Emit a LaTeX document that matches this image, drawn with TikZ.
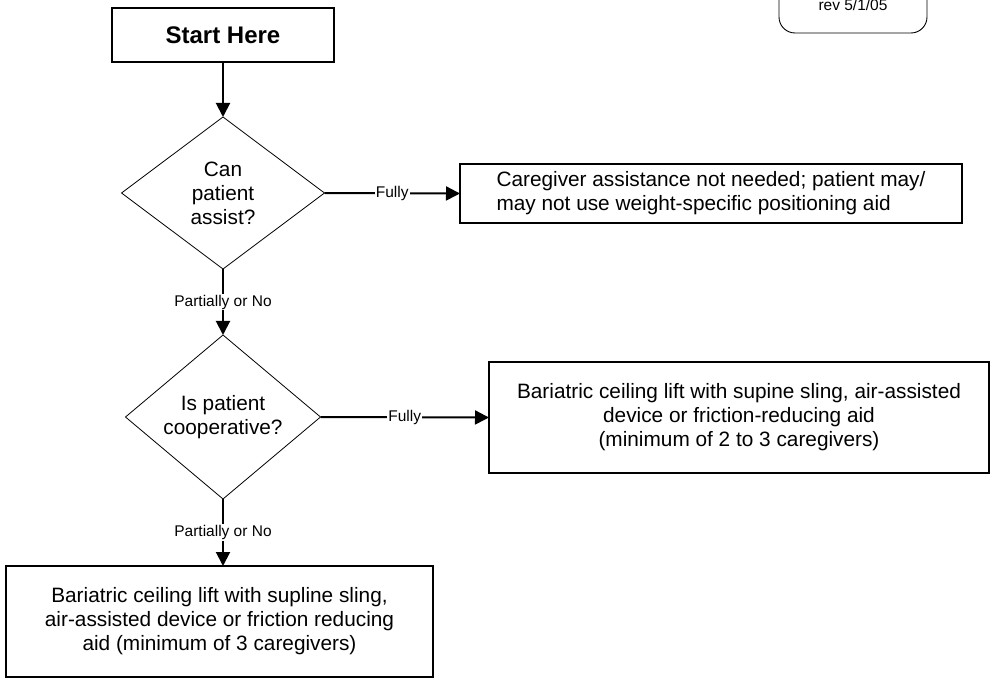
\documentclass[tikz,border=0pt]{standalone}
\usepackage{fontspec}
\setmainfont{Liberation Sans}
\usetikzlibrary{positioning, arrows.meta, shapes.geometric}

\begin{document}
\begin{tikzpicture}[x=1pt, y=-1pt,
        font=\fontsize{20.8}{24}\selectfont,
        b/.style={rectangle, draw, line width=1.1pt, align=center, inner sep=0pt, outer sep=0pt},
        dec/.style={diamond, draw, line width=0.8pt, align=center, inner sep=0pt, outer sep=0pt},
        arr/.style={-{Triangle[length=14pt, width=14pt]}, line width=2pt},
        lbl/.style={fill=white, inner sep=1pt, font=\fontsize{15.5}{18}\selectfont}
    ]
    \useasboundingbox (0,0) rectangle (991,679);
    % revision tag, cut by the top edge
    \node[b, rounded corners=16pt, line width=0.9pt, minimum width=148pt, minimum height=56pt,
        font=\fontsize{15.5}{18}\selectfont] (rev) at (853,5) {rev 5/1/05};
    \node[b, minimum width=222pt, minimum height=54pt, font=\fontsize{24}{28}\selectfont\bfseries] (start) at (223,35) {Start Here};
    \node[dec, minimum width=203pt, minimum height=152pt] (assist) at (223,193) {Can\\patient\\assist?};
    \node[b, align=left, minimum width=502pt, minimum height=59pt] (noneed) at (711,193.5)
        {Caregiver assistance not needed; patient may/\\may not use weight-specific positioning aid};
    \node[dec, minimum width=195pt, minimum height=164pt] (coop) at (223,417) {Is patient\\cooperative?};
    \node[b, minimum width=500pt, minimum height=111pt] (liftA) at (739,417.5)
        {Bariatric ceiling lift with supine sling, air-assisted\\device or friction-reducing aid\\(minimum of 2 to 3 caregivers)};
    \node[b, minimum width=427pt, minimum height=111pt] (liftB) at (219.5,621.5)
        {Bariatric ceiling lift with supline sling,\\air-assisted device or friction reducing\\aid (minimum of 3 caregivers)};
    \draw[arr] (start) -- (assist);
    \draw[arr] (assist.east) -- node[lbl]{Fully} (noneed.west);
    \draw[arr] (assist) -- node[lbl]{Partially or No} (coop);
    \draw[arr] (coop.east) -- node[lbl]{Fully} (liftA.west);
    \draw[arr] (coop.south) -- node[lbl]{Partially or No} (coop.south |- liftB.north);
\end{tikzpicture}
\end{document}
